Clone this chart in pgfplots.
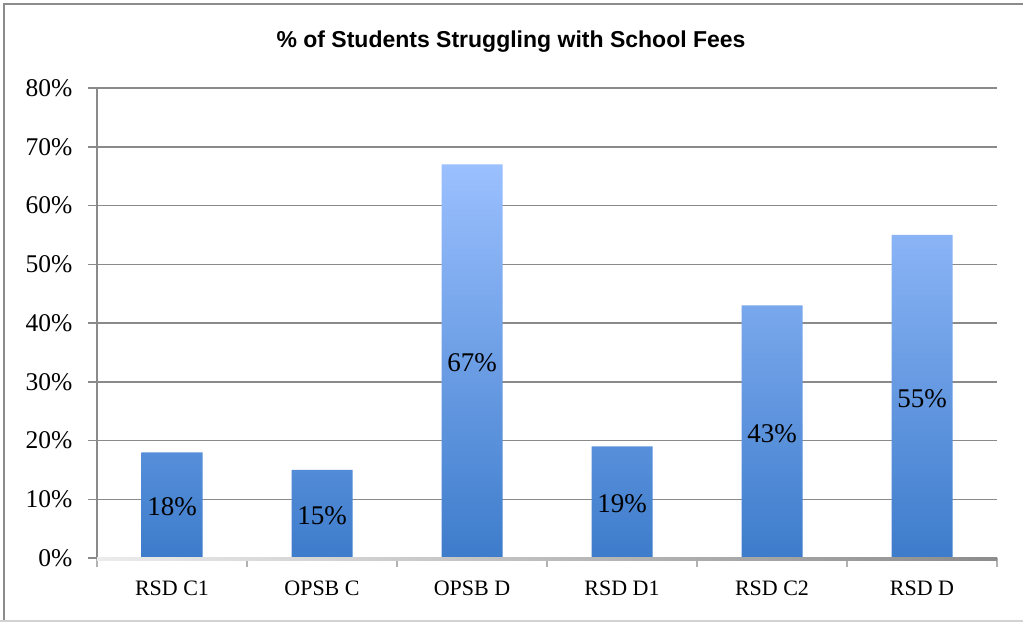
\documentclass[border=0pt]{standalone}
\usepackage{pgfplots}
\pgfplotsset{compat=1.18}
\usepackage{pgfplotstable}
\usepackage{fontspec}
\setmainfont{Liberation Serif}
\newfontfamily\titlefont{Liberation Sans}
\definecolor{gridc}{RGB}{138,138,138}
\definecolor{barTop}{RGB}{155,192,255}
\definecolor{barBot}{RGB}{61,124,203}
\definecolor{framec}{RGB}{140,140,140}
\pgfplotstableread{
x v
0 18
1 15
2 67
3 19
4 43
5 55
}\data
\begin{document}
\begin{tikzpicture}[x=1pt,y=1pt]
\useasboundingbox (-97,-64) rectangle (926,558);
\clip (-97,-64) rectangle (926,558);
\fill[white] (-97,-64) rectangle (926,558);
\draw[framec, line width=2] (-92.5,-64) -- (-92.5,553.5) -- (926,553.5);
\draw[gray!35, line width=1.2] (-97,-63) -- (926,-63);
\node[font=\titlefont\bfseries\fontsize{23}{23}\selectfont] at (414,516) {\% of Students Struggling with School Fees};
\begin{axis}[at={(0,0)}, anchor=south west, scale only axis, width=900pt, height=470pt,
 xmin=-0.5, xmax=5.5, ymin=0, ymax=80,
 axis lines=left, axis line style={-, draw=gridc, line width=1.5pt},
 x axis line style={draw=none},
 ytick={0,10,...,80}, ymajorgrids, grid style={gridc, line width=1.5pt},
 yticklabel={\pgfmathprintnumber{\tick}\%},
 tick align=outside, major tick length=9pt,
 ytick style={gridc, line width=1.5pt},
 xtick={-0.5,0.5,...,5.5}, x tick label as interval,
 xticklabels={RSD C1,OPSB C,OPSB D,RSD D1,RSD C2,RSD D},
 xtick style={gray!60, line width=1.5pt},
 /pgf/number format/assume math mode=true,
 yticklabel style={font=\fontsize{25.5}{25.5}\selectfont, xshift=-12pt},
 xticklabel style={font=\fontsize{22}{22}\selectfont, yshift=-10pt},
 clip=false,
]
\addplot[ybar, bar width=61pt, bar shift=0pt, draw=none, top color=barTop, bottom color=barBot] table[x=x,y=v]{\data};
\addplot[draw=none, mark=none, point meta=explicit,
  nodes near coords={\pgfmathprintnumber{\pgfplotspointmeta}\%},
  every node near coord/.style={anchor=center, yshift=-2pt, font=\fontsize{27}{27}\selectfont}]
  table[x=x, y expr=\thisrow{v}/2, meta=v]{\data};
\end{axis}
\shade[left color=gray!15, right color=gray!90] (0,-2.5) rectangle (900,0.5);
\end{tikzpicture}
\end{document}
